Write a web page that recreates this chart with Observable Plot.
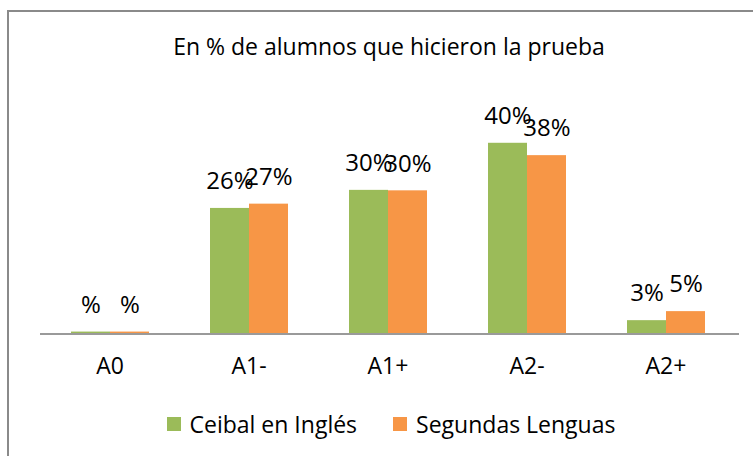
<!DOCTYPE html>
<html>
<head>
<meta charset="utf-8">
<script src="https://cdn.jsdelivr.net/npm/d3@7"></script>
<script src="https://cdn.jsdelivr.net/npm/@observablehq/plot@0.6"></script>
<style>
  html, body { margin: 0; padding: 0; background: #fff; }
  #page { position: relative; width: 753px; height: 456px; font-family: "Open Sans", Lato, sans-serif; color: #000; overflow: hidden; }
  #frame { position: absolute; left: 7px; top: 10px; width: 760px; height: 460px; border-left: 2px solid #8a8a8a; border-top: 2px solid #8a8a8a; }
  #title { position: absolute; left: 0; width: 778px; top: 30px; text-align: center; font-size: 23px; }
  #chart { position: absolute; left: 0; top: 79px; }
  #legend { position: absolute; left: 0; width: 782px; top: 408px; display: flex; justify-content: center; align-items: center; font-size: 23px; }
  .item { display: flex; align-items: center; margin: 0 18px; }
  .sw { width: 14px; height: 14px; margin-right: 9px; }
</style>
</head>
<body>
<div id="page">
  <div id="frame"></div>
  <div id="title">En % de alumnos que hicieron la prueba</div>
  <div id="chart"></div>
  <div id="legend"></div>
</div>
<script>
const categories = ["A0", "A1-", "A1+", "A2-", "A2+"];
const series = ["Ceibal en Inglés", "Segundas Lenguas"];
const colors = ["#9BBB59", "#F79646"];
const ceibal = [0.3, 26.3, 30.1, 40, 2.7];
const segundas = [0.3, 27.2, 30, 37.4, 4.6];
const ceibalLabels = ["%", "26%", "30%", "40%", "3%"];
const segundasLabels = ["%", "27%", "30%", "38%", "5%"];

const data = [];
categories.forEach((c, i) => {
  data.push({cat: c, series: series[0], value: ceibal[i], label: ceibalLabels[i]});
  data.push({cat: c, series: series[1], value: segundas[i], label: segundasLabels[i]});
});

const chart = Plot.plot({
  width: 753,
  height: 300,
  marginLeft: 38,
  marginRight: 17,
  marginTop: 40,
  marginBottom: 46,
  style: {fontFamily: "'Open Sans', Lato, sans-serif", background: "transparent", overflow: "visible"},
  fx: {domain: categories, padding: 0, label: null},
  x: {domain: series, axis: null, paddingInner: 0, paddingOuter: 0.74},
  y: {domain: [0, 45], axis: null},
  color: {domain: series, range: colors},
  marks: [
    Plot.axisFx({anchor: "bottom", tickSize: 0, tickPadding: 24, fontSize: 23, label: null, fill: "#000"}),
    Plot.barY(data, {fx: "cat", x: "series", y: "value", fill: "series"}),
    Plot.text(data, {fx: "cat", x: "series", y: "value", text: "label", dy: -27, fontSize: 24, fill: "#000"}),
    Plot.ruleY([0], {stroke: "#9a9a9a", strokeWidth: 2, insetRight: -4, shapeRendering: "crispEdges"})
  ]
});
document.getElementById("chart").appendChild(chart);

const legend = document.getElementById("legend");
series.forEach((s, i) => {
  const it = document.createElement("div");
  it.className = "item";
  const sw = document.createElement("div");
  sw.className = "sw";
  sw.style.background = colors[i];
  const t = document.createElement("span");
  t.textContent = s;
  it.appendChild(sw);
  it.appendChild(t);
  legend.appendChild(it);
});
</script>
</body>
</html>
